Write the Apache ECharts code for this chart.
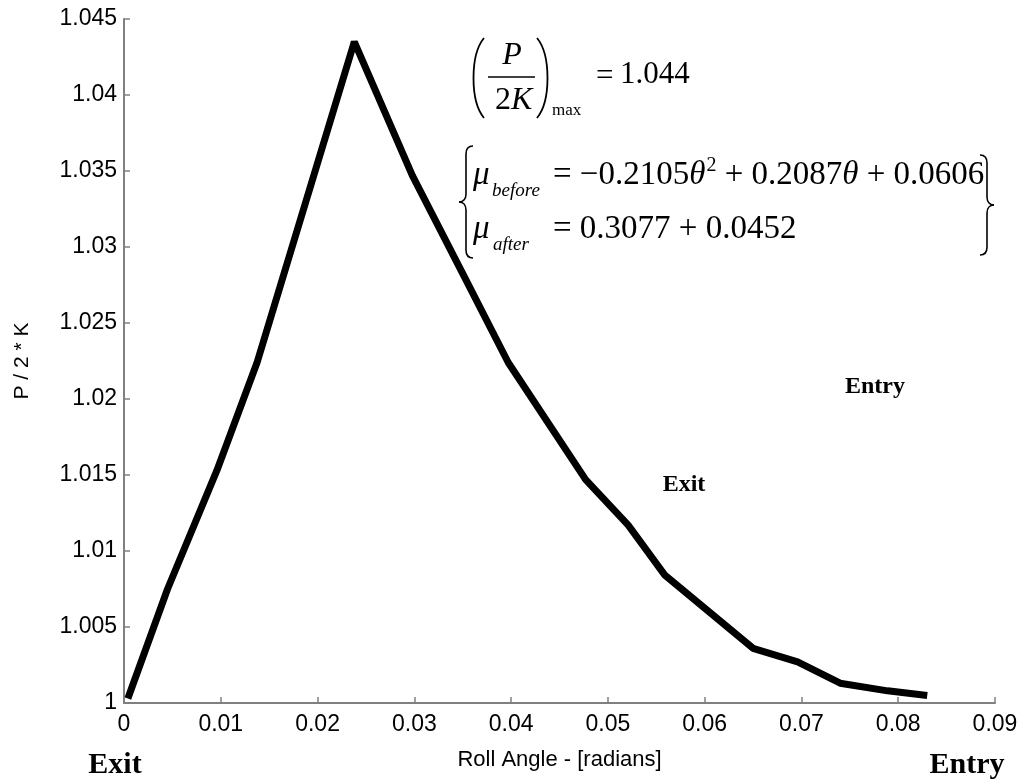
<!DOCTYPE html>
<html>
<head>
<meta charset="utf-8">
<script src="https://cdn.jsdelivr.net/npm/echarts@6.0.0/dist/echarts.min.js"></script>
<style>
  html, body { margin: 0; padding: 0; background: #fff; }
  #chart { width: 1026px; height: 783px; }
</style>
</head>
<body>
<div id="chart"></div>
<script>
// Roll angle (radians) and normalised roll pressure P/2K along the contact arc
var rollAngle = [0.0004, 0.0045, 0.0096, 0.01375, 0.0238, 0.0298, 0.0352, 0.0397, 0.0477, 0.0521, 0.0559, 0.0650, 0.0696, 0.0740, 0.0789, 0.0830];
var pressure  = [1.0003, 1.0075, 1.0153, 1.0224, 1.0435, 1.0347, 1.0280, 1.0224, 1.0147, 1.0117, 1.0084, 1.0036, 1.0027, 1.0013, 1.0008, 1.0005];

// Axis ranges and tick steps
var xRange = { min: 0, max: 0.09, step: 0.01 };
var yRange = { min: 1, max: 1.045, step: 0.005 };

var points = rollAngle.map(function (a, i) { return [a, pressure[i]]; });

var serif = 'Liberation Serif';
var sans = 'Liberation Sans';

function txt(x, y, text, size, opts) {
  opts = opts || {};
  return {
    type: 'text', x: x, y: y, silent: true,
    scaleX: opts.scaleX || 1,
    style: {
      text: text, fill: '#000',
      fontFamily: opts.family || serif,
      fontSize: size,
      fontStyle: opts.italic ? 'italic' : 'normal',
      fontWeight: opts.bold ? 'bold' : 'normal',
      align: opts.align || 'left',
      verticalAlign: 'middle'
    }
  };
}
function curve(x1, y1, c1x, c1y, c2x, c2y, x2, y2, w) {
  return {
    type: 'bezierCurve', silent: true,
    shape: { x1: x1, y1: y1, cpx1: c1x, cpy1: c1y, cpx2: c2x, cpy2: c2y, x2: x2, y2: y2 },
    style: { stroke: '#000', lineWidth: w || 1.6, fill: null }
  };
}
function seg(x1, y1, x2, y2, w) {
  return {
    type: 'line', silent: true,
    shape: { x1: x1, y1: y1, x2: x2, y2: y2 },
    style: { stroke: '#000', lineWidth: w || 1.6 }
  };
}

var annotations = [
  // (P / 2K)_max = 1.044
  curve(484, 38, 470, 55, 470, 101, 484, 118, 1.8),
  curve(537, 38, 551, 55, 551, 101, 537, 118, 1.8),
  txt(512, 56, 'P', 32, { italic: true, align: 'center' }),
  seg(488, 77, 535, 77, 1.5),
  txt(511, 101, '2', 32, { align: 'right' }),
  txt(511, 101, 'K', 32, { italic: true }),
  txt(552, 111, 'max', 17),
  txt(596, 77, '=', 31),
  txt(620, 75, '1.044', 31),

  // friction coefficient system
  curve(473, 146, 468, 146, 466, 149, 466, 154, 1.6),
  seg(466, 154, 466, 194, 1.6),
  curve(466, 194, 466, 199, 463, 202, 459, 202, 1.6),
  curve(459, 202, 463, 202, 466, 205, 466, 210, 1.6),
  seg(466, 210, 466, 250, 1.6),
  curve(466, 250, 466, 255, 468, 258, 473, 258, 1.6),

  curve(980, 155, 985, 155, 987, 158, 987, 163, 1.6),
  seg(987, 163, 987, 197, 1.6),
  curve(987, 197, 987, 202, 990, 205, 994, 205, 1.6),
  curve(994, 205, 990, 205, 987, 208, 987, 213, 1.6),
  seg(987, 213, 987, 247, 1.6),
  curve(987, 247, 987, 252, 985, 255, 980, 255, 1.6),

  txt(473, 175, 'μ', 33, { italic: true }),
  txt(492, 191, 'before', 19, { italic: true }),
  {
    type: 'text', x: 553, y: 175, silent: true,
    style: {
      text: '{n|= −0.2105}{i|θ}{s|2}{n| + 0.2087}{i|θ}{n| + 0.0606}',
      verticalAlign: 'middle',
      rich: {
        n: { fontFamily: serif, fontSize: 33, fill: '#000' },
        i: { fontFamily: serif, fontSize: 33, fontStyle: 'italic', fill: '#000' },
        s: { fontFamily: serif, fontSize: 20, fill: '#000', padding: [0, 0, 18, 1] }
      }
    }
  },
  txt(473, 229, 'μ', 33, { italic: true }),
  txt(493, 245, 'after', 19, { italic: true }),
  txt(553, 229, '= 0.3077 + 0.0452', 33),

  // direction labels
  txt(875, 387, 'Entry', 24, { bold: true, align: 'center' }),
  txt(684, 485, 'Exit', 24, { bold: true, align: 'center' }),
  txt(115, 765, 'Exit', 30, { bold: true, align: 'center' }),
  txt(967, 765, 'Entry', 30, { bold: true, align: 'center' })
];

var axisColor = '#808080';

var chart = echarts.init(document.getElementById('chart'), null, { renderer: 'canvas' });
chart.setOption({
  animation: false,
  backgroundColor: '#fff',
  grid: { left: 124, right: 31, top: 19, bottom: 80, containLabel: false },
  xAxis: {
    type: 'value',
    min: xRange.min, max: xRange.max, interval: xRange.step,
    name: 'Roll Angle - [radians]',
    nameLocation: 'middle', nameGap: 46,
    nameTextStyle: { fontFamily: sans, fontSize: 22, color: '#000' },
    axisLine: { lineStyle: { color: axisColor, width: 2 } },
    axisTick: { inside: true, length: 6, lineStyle: { color: axisColor, width: 1.5 } },
    splitLine: { show: false },
    axisLabel: { fontFamily: sans, fontSize: 23, color: '#000', margin: 10 }
  },
  yAxis: {
    type: 'value',
    min: yRange.min, max: yRange.max, interval: yRange.step,
    name: 'P / 2 * K',
    nameLocation: 'middle', nameGap: 91, nameRotate: 90,
    nameTextStyle: { fontFamily: sans, fontSize: 21, color: '#000' },
    axisLine: { show: true, lineStyle: { color: axisColor, width: 2 } },
    axisTick: { show: true, inside: true, length: 6, lineStyle: { color: axisColor, width: 1.5 } },
    splitLine: { show: false },
    axisLabel: { fontFamily: sans, fontSize: 23, color: '#000', margin: 7 }
  },
  series: [{
    type: 'line',
    data: points,
    showSymbol: false,
    symbol: 'none',
    lineStyle: { color: '#000', width: 7, join: 'bevel', cap: 'butt' },
    silent: true
  }],
  graphic: { elements: annotations }
});
</script>
</body>
</html>
